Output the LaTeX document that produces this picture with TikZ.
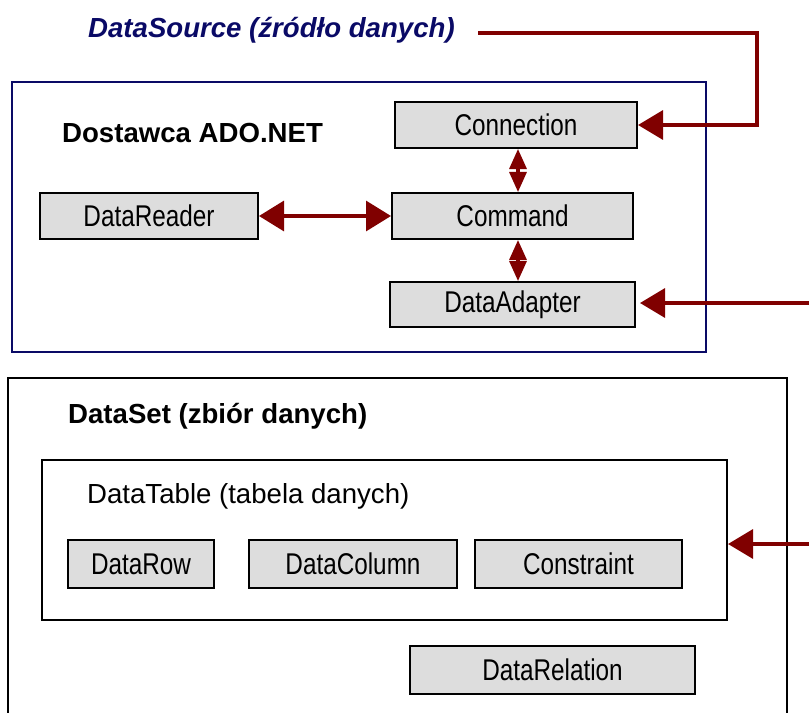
\documentclass[tikz,border=0pt]{standalone}
\usepackage{fontspec}
\setmainfont{Liberation Sans}
\newfontfamily\narrowfont[FakeStretch=0.81]{Liberation Sans}
\usepackage{tikz}
\usetikzlibrary{
	positioning,
	arrows.meta
}
\definecolor{navyblue}{HTML}{0A0A66}
\definecolor{darkred}{HTML}{800000}
\definecolor{boxgray}{HTML}{DDDDDD}

\begin{document}
\begin{tikzpicture}[x=1bp,y=-1bp,
		item/.style={draw=black,line width=2bp,fill=boxgray,inner sep=0pt,
			font=\narrowfont\fontsize{30bp}{32bp}\selectfont},
		heading/.style={anchor=base west,inner sep=0pt,
			font=\bfseries\fontsize{27.6bp}{30bp}\selectfont},
		link/.style={draw=darkred,line width=3.2bp,-{Triangle[length=25bp,width=29bp]}},
		twoway/.style={draw=darkred,line width=3.2bp,{Triangle[length=25bp,width=30bp]}-{Triangle[length=25bp,width=30bp]}},
		updown/.style={draw=darkred,line width=3.2bp,{Triangle[length=20bp,width=17bp]}-{Triangle[length=20bp,width=17bp]}}
	]
		\useasboundingbox (0,0) rectangle (809,713);

		% ADO.NET provider
		\node[draw=navyblue,line width=1.8bp,minimum width=694bp,minimum height=270bp] (prov) at (359,217) {};
		\node[heading,text=navyblue,font=\bfseries\itshape\fontsize{27.6bp}{30bp}\selectfont] (src) at (88,38) {DataSource (źródło danych)};
		\node[heading] (provtitle) at (62,143) {Dostawca ADO.NET};

		\node[item,minimum width=242bp,minimum height=46bp] (conn) at (516,125) {Connection};
		\node[item,minimum width=218bp,minimum height=46bp] (rdr) at (149,216) {DataReader};
		\node[item,minimum width=241bp,minimum height=46bp] (cmd) at (512.5,216) {Command};
		\node[item,minimum width=245bp,minimum height=45bp] (adp) at (512.5,304.5) {DataAdapter};

		% DataSet
		\draw[line width=2bp] (8,720) |- (787,378) -- (787,720);
		\node[heading] (settitle) at (68,423) {DataSet (zbiór danych)};
		\node[draw=black,line width=2bp,minimum width=685bp,minimum height=160bp] (tbl) at (384.5,540) {};
		\node[heading,font=\fontsize{27.6bp}{30bp}\selectfont] (tbltitle) at (87,503) {DataTable (tabela danych)};

		\node[item,minimum width=146bp,minimum height=48bp] (row) at (141,564) {DataRow};
		\node[item,minimum width=208bp,minimum height=48bp] (col) at (353,564) {DataColumn};
		\node[item,minimum width=207bp,minimum height=48bp] (cons) at (578.5,564) {Constraint};
		\node[item,minimum width=285bp,minimum height=48bp] (rel) at (552.5,670) {DataRelation};

		% connectors
		\coordinate (srcend) at (478,33);
		\coordinate (corner) at (757,33);
		\coordinate (axis) at (518,0);
		\coordinate (inadp) at (809,303);
		\coordinate (intbl) at (809,544);

		\draw[link] (srcend) -- (corner) |- (conn.east);
		\draw[twoway] (rdr.east) -- (cmd.west);
		\draw[updown] (conn.south -| axis) -- (cmd.north -| axis);
		\draw[updown] (cmd.south -| axis) -- (adp.north -| axis);
		\draw[link,shorten >=4bp] (inadp) -- (inadp -| adp.east);
		\draw[link] (intbl) -- (intbl -| tbl.east);
	\end{tikzpicture}
\end{document}
